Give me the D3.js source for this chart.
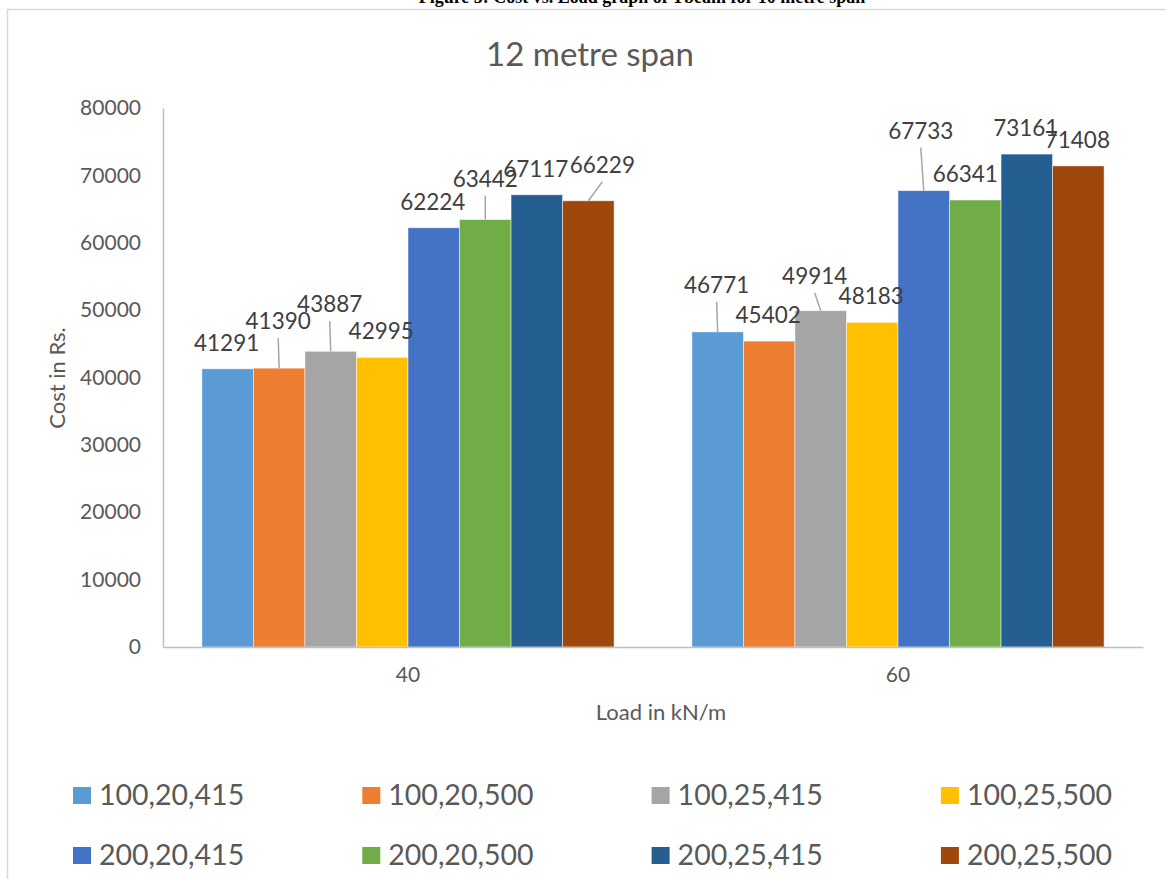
<!DOCTYPE html>
<html>
<head>
<meta charset="utf-8">
<script src="https://cdn.jsdelivr.net/npm/d3@7"></script>
<style>
  html, body { margin: 0; padding: 0; background: #fff; }
  svg { display: block; font-family: Lato, "Open Sans", sans-serif; }
</style>
</head>
<body>
<svg id="chart" width="1166" height="879"></svg>
<script>
// Cost of T-beam designs at two load levels, 12 m span
const loads = ["40", "60"];
const seriesNames = [
  "100,20,415", "100,20,500", "100,25,415", "100,25,500",
  "200,20,415", "200,20,500", "200,25,415", "200,25,500"
];
const costAt40 = [41291, 41390, 43887, 42995, 62224, 63442, 67117, 66229];
const costAt60 = [46771, 45402, 49914, 48183, 67733, 66341, 73161, 71408];
const yTicks = [0, 10000, 20000, 30000, 40000, 50000, 60000, 70000, 80000];

const colors = ["#5B9BD5", "#ED7D31", "#A5A5A5", "#FFC000",
                "#4472C4", "#70AD47", "#255E91", "#9E480E"];

// Hand-placed data label offsets [dx, dy up] per load; a leader line is drawn when lifted
const labelNudge40 = [[-1, 0], [-1, 21], [-1, 21], [-1, 0], [-1, 0], [0, 15], [-1, 0], [14, 10]];
const labelNudge60 = [[-1, 21], [-1, 0], [-6, 9], [-1, 0], [-3, 34], [-10, 0], [-1, 0], [-1, 0]];

const rows = [
  { load: loads[0], values: costAt40, nudge: labelNudge40 },
  { load: loads[1], values: costAt60, nudge: labelNudge60 }
];

const svg = d3.select("#chart");
const textColor = "#595959";
const plot = { left: 163, right: 1143, top: 108, bottom: 647 };

// caption of the figure above the chart frame (clipped at the top edge)
svg.append("text")
  .attr("x", 642).attr("y", 3)
  .attr("text-anchor", "middle")
  .attr("font-family", "'Liberation Serif', 'Times New Roman', serif")
  .attr("font-weight", "bold")
  .attr("font-size", 18)
  .attr("fill", "#000")
  .text("Figure 5: Cost vs. Load graph of Tbeam for 10 metre span");

// chart frame
svg.append("rect")
  .attr("x", 7.5).attr("y", 9.5)
  .attr("width", 1170).attr("height", 880)
  .attr("fill", "#fff")
  .attr("stroke", "#d9d9d9").attr("stroke-width", 1.5);

// title
svg.append("text")
  .attr("x", 590).attr("y", 66)
  .attr("text-anchor", "middle")
  .attr("font-size", 33)
  .attr("fill", textColor)
  .text("12 metre span");

const x0 = d3.scaleBand().domain(loads).range([plot.left, plot.right]);
const x1 = d3.scaleBand().domain(seriesNames).range([0, x0.bandwidth()])
  .paddingInner(0).paddingOuter(0.755);
const y = d3.scaleLinear().domain([0, 80000]).range([plot.bottom, plot.top]);

// y axis
const yAxis = svg.append("g")
  .attr("transform", `translate(${plot.left},0)`)
  .call(d3.axisLeft(y).tickValues(yTicks).tickSize(0).tickPadding(22).tickFormat(d3.format("d")));
yAxis.select(".domain").attr("stroke", "#bfbfbf").attr("stroke-width", 1.5);
yAxis.selectAll("text").attr("font-size", 21).attr("fill", textColor)
  .attr("font-family", "Lato, sans-serif");

// bars
const groups = svg.append("g").selectAll("g")
  .data(rows).join("g")
  .attr("transform", d => `translate(${x0(d.load)},0)`);

groups.selectAll("rect")
  .data(d => d.values.map((v, i) => ({ name: seriesNames[i], value: v, i })))
  .join("rect")
  .attr("x", d => x1(d.name))
  .attr("y", d => y(d.value))
  .attr("width", x1.bandwidth())
  .attr("height", d => y(0) - y(d.value))
  .attr("fill", d => colors[d.i])
  .attr("stroke", "#ffffff").attr("stroke-opacity", 0.6).attr("stroke-width", 0.8);

// x axis
const xAxis = svg.append("g")
  .attr("transform", `translate(0,${plot.bottom})`)
  .call(d3.axisBottom(x0).tickSize(0).tickPadding(20));
xAxis.select(".domain").attr("stroke", "#bfbfbf").attr("stroke-width", 1.5);
xAxis.selectAll("text").attr("font-size", 21).attr("fill", textColor)
  .attr("font-family", "Lato, sans-serif");

// data labels with leader lines
const labelGap = 18;
groups.each(function (row) {
  const g = d3.select(this);
  row.values.forEach((v, i) => {
    const cx = x1(seriesNames[i]) + x1.bandwidth() / 2;
    const top = y(v);
    const [dx, dy] = row.nudge[i];
    const lx = cx + dx;
    const base = top - labelGap - dy;
    if (dy > 5) {
      g.append("line")
        .attr("x1", lx).attr("y1", base + 9)
        .attr("x2", cx).attr("y2", top)
        .attr("stroke", "#a6a6a6").attr("stroke-width", 1.5);
    }
    g.append("text")
      .attr("x", lx).attr("y", base)
      .attr("text-anchor", "middle")
      .attr("font-size", 22.5)
      .attr("fill", "#404040")
      .text(v);
  });
});

// axis titles
svg.append("text")
  .attr("x", 661).attr("y", 720)
  .attr("text-anchor", "middle")
  .attr("font-size", 22)
  .attr("fill", textColor)
  .text("Load in kN/m");

svg.append("text")
  .attr("transform", "translate(65,378) rotate(-90)")
  .attr("text-anchor", "middle")
  .attr("font-size", 22)
  .attr("fill", textColor)
  .text("Cost in Rs.");

// legend, four columns by two rows
const legend = svg.append("g").selectAll("g")
  .data(seriesNames).join("g")
  .attr("transform", (d, i) => `translate(${73 + (i % 4) * 289.3},${787 + Math.floor(i / 4) * 60})`);
legend.append("rect")
  .attr("width", 18).attr("height", 17)
  .attr("fill", (d, i) => colors[i]);
legend.append("text")
  .attr("x", 26).attr("y", 18)
  .attr("font-size", 28.5)
  .attr("fill", textColor)
  .text(d => d);
</script>
</body>
</html>
